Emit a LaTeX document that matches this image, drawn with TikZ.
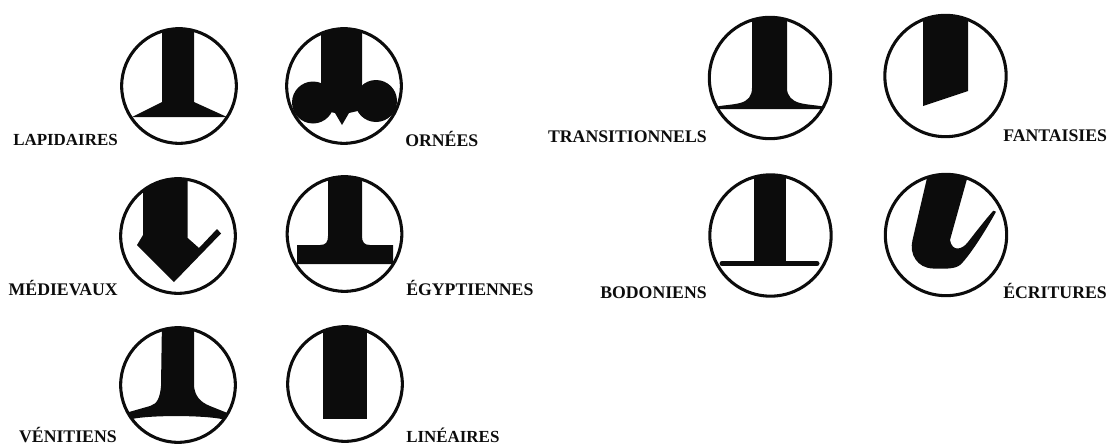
\documentclass[tikz,border=0pt]{standalone}
\usepackage{fontspec}
\setmainfont{Liberation Serif}
\definecolor{inkblack}{RGB}{12,12,12}
\tikzset{
  gring/.style ={circle, draw=inkblack, line width=2.3pt, inner sep=0pt, outer sep=0pt, minimum size=86pt},
  gringB/.style={gring, minimum size=91pt},
  gstem/.style ={fill=inkblack, draw=none},
  gbar/.style  ={draw=inkblack, line width=3.75pt, line cap=round},
  glabel/.style={inner sep=0pt, text=inkblack, text height=8.7pt, text depth=0pt, font=\fontsize{13.3}{14}\selectfont\bfseries},
  glabelL/.style={glabel, anchor=east},
  glabelR/.style={glabel, anchor=west},
  gsmall/.style={font=\fontsize{12.7}{14}\selectfont\bfseries},
}
\begin{document}
\begin{tikzpicture}[x=0.75pt, y=-0.75pt]
\useasboundingbox (0,0) rectangle (1112,446);
% left block
\begin{scope}
  \clip (179,86) circle[radius=57.4];
  \fill[gstem] (162,20) -- (162,102) -- (132,117) -- (227,117) -- (194,102) -- (194,20) -- cycle;
\end{scope}
\begin{scope}
  \clip (344,86) circle[radius=58];
  \fill[gstem] (321,20) -- (321,110) -- (335,113) -- (342,125) -- (349,113) -- (362,110) -- (362,20) -- cycle;
  \fill[gstem] (313,102.5) ellipse[x radius=21, y radius=21];
  \fill[gstem] (376,101) ellipse[x radius=21, y radius=21];
\end{scope}
\begin{scope}
  \clip (178,236) circle[radius=57];
  \fill[gstem] (143,170) -- (143,235) -- (137,245) -- (174,282) -- (221,233.5) -- (217,229) -- (199,248) -- (187.7,238) -- (187.7,170) -- cycle;
\end{scope}
\begin{scope}
  \clip (344.5,234) circle[radius=58];
  \fill[gstem] (328,170) -- (328,236) .. controls (328,242) and (326,245) .. (320,245) -- (297,245) -- (297,264) -- (393,264) -- (393,245) -- (370,245) .. controls (364,245) and (362,242) .. (362,236) -- (362,170) -- cycle;
\end{scope}
\begin{scope}
  \clip (178,385) circle[radius=57.4];
  \fill[gstem] (162,320) -- (161,386) .. controls (160,398) and (157,404) .. (150,406) -- (129,412) -- (129,416) -- (132,419) .. controls (150,415) and (205,415) .. (224,419.5) -- (230,414) -- (210,406) .. controls (200,402) and (195,396) .. (194,386) -- (194,320) -- cycle;
\end{scope}
\begin{scope}
  \clip (345,384) circle[radius=58];
  \fill[gstem] (323,320) rectangle (367,418.7);
\end{scope}
% right block
\begin{scope}
  \clip (770,78) circle[radius=60.7];
  \fill[gstem] (752,10) -- (752,88) .. controls (752,96) and (748,101) .. (740,103) .. controls (732,105) and (725,105) .. (717,106.5) -- (717,109) -- (823,109) -- (823,106.5) .. controls (815,105) and (808,105) .. (800,103) .. controls (792,101) and (787,96) .. (787,88) -- (787,10) -- cycle;
\end{scope}
\begin{scope}
  \clip (945.5,76) circle[radius=60.7];
  \fill[gstem] (923,10) -- (923,106) -- (968,91) -- (968,10) -- cycle;
\end{scope}
\begin{scope}
  \clip (770.5,235.5) circle[radius=60.7];
  \fill[gstem] (754,170) rectangle (786,264);
  \draw[gbar] (722,263.5) -- (817,263.5);
\end{scope}
\begin{scope}
  \clip (946,235) circle[radius=60.7];
  \fill[gstem] (935,145) -- (927.3,176.7) -- (912.5,240) .. controls (909,254) and (917,268) .. (933,268.5) .. controls (945,269) and (955,269) .. (960,265) .. controls (968,258) and (985,232) .. (996,211.7) -- (993.3,210.7) .. controls (985,220) and (975,233) .. (968,242) .. controls (962,250) and (952,252) .. (950,240) -- (966.7,180) -- (975,145) -- cycle;
\end{scope}
\node[gring]  (lapidaires) at (179,86) {};
\node[gring]  (ornees) at (344,86) {};
\node[gring]  (medievaux) at (178,236) {};
\node[gring]  (egyptiennes) at (344.5,234) {};
\node[gring]  (venitiens) at (178,385) {};
\node[gring]  (lineaires) at (345,384) {};
\node[gringB] (transitionnels) at (770,78) {};
\node[gringB] (fantaisies) at (945.5,76) {};
\node[gringB] (bodoniens) at (770.5,235.5) {};
\node[gringB] (ecritures) at (946,235) {};
\node[glabelL, gsmall] (lLapidaires) at (118,140) {LAPIDAIRES};
\node[glabelR] (lOrnees) at (405,140.5) {ORNÉES};
\node[glabelL] (lMedievaux) at (118,290) {MÉDIEVAUX};
\node[glabelR] (lEgyptiennes) at (406,289.5) {ÉGYPTIENNES};
\node[glabelL] (lVenitiens) at (117,436.5) {VÉNITIENS};
\node[glabelR, gsmall] (lLineaires) at (406,437) {LINÉAIRES};
\node[glabelL] (lTransitionnels) at (707,136.5) {TRANSITIONNELS};
\node[glabelR] (lFantaisies) at (1003,135.5) {FANTAISIES};
\node[glabelL] (lBodoniens) at (707,292.5) {BODONIENS};
\node[glabelR] (lEcritures) at (1003,292.5) {ÉCRITURES};
\end{tikzpicture}
\end{document}
